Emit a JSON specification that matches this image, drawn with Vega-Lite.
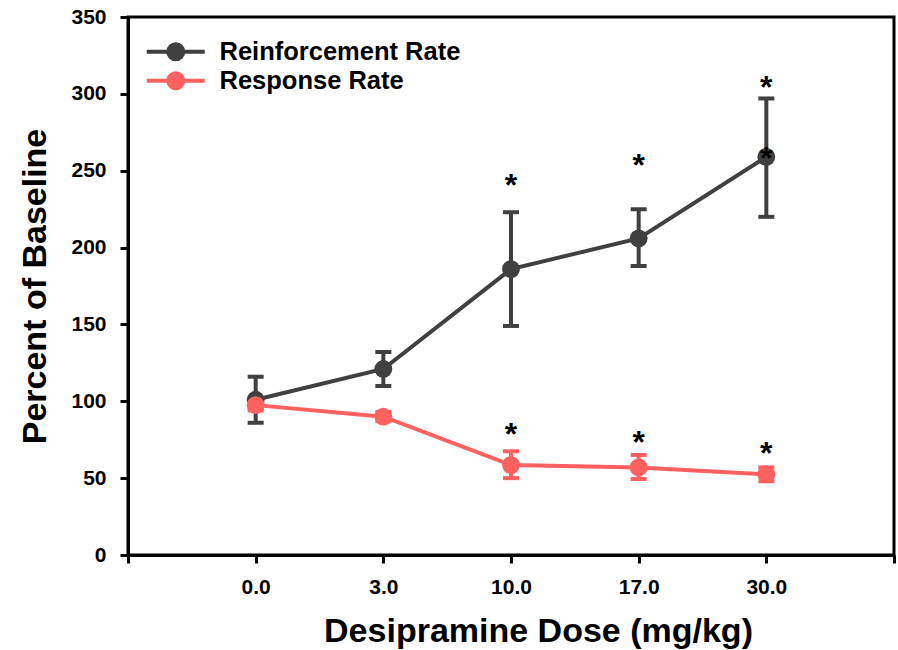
{
  "$schema": "https://vega.github.io/schema/vega-lite/v6.json",
  "width": 766,
  "height": 538,
  "autosize": "none",
  "padding": {"left": 128, "top": 17, "right": 4, "bottom": 95},
  "background": "white",
  "config": {
    "view": {"stroke": "black", "strokeWidth": 3},
    "font": "Liberation Sans",
    "axis": {
      "grid": false,
      "domainColor": "black",
      "domainWidth": 3,
      "tickColor": "black",
      "tickWidth": 3,
      "tickSize": 8,
      "labelFont": "Liberation Sans",
      "labelFontWeight": "bold",
      "labelFontSize": 21,
      "labelColor": "black",
      "titleFont": "Liberation Sans",
      "titleFontWeight": "bold",
      "titleFontSize": 34,
      "titleColor": "black"
    }
  },
  "datasets": {
    "series": [
      {"dose": "0.0", "series": "Reinforcement Rate", "mean": 101, "lo": 86, "hi": 116},
      {"dose": "3.0", "series": "Reinforcement Rate", "mean": 121, "lo": 110, "hi": 132},
      {"dose": "10.0", "series": "Reinforcement Rate", "mean": 186, "lo": 149, "hi": 223},
      {"dose": "17.0", "series": "Reinforcement Rate", "mean": 206, "lo": 188, "hi": 225},
      {"dose": "30.0", "series": "Reinforcement Rate", "mean": 259, "lo": 220, "hi": 297},
      {"dose": "0.0", "series": "Response Rate", "mean": 97.5, "lo": 94, "hi": 101},
      {"dose": "3.0", "series": "Response Rate", "mean": 90, "lo": 87, "hi": 93},
      {"dose": "10.0", "series": "Response Rate", "mean": 58.5, "lo": 50, "hi": 67.5},
      {"dose": "17.0", "series": "Response Rate", "mean": 57, "lo": 49.5, "hi": 65},
      {"dose": "30.0", "series": "Response Rate", "mean": 52.5, "lo": 48, "hi": 57}
    ],
    "stars": [
      {"dose": "10.0", "pos": 243},
      {"dose": "17.0", "pos": 256},
      {"dose": "30.0", "pos": 307},
      {"dose": "30.0", "pos": 261},
      {"dose": "10.0", "pos": 81},
      {"dose": "17.0", "pos": 76},
      {"dose": "30.0", "pos": 69}
    ]
  },
  "encoding": {
    "x": {
      "field": "dose",
      "type": "ordinal",
      "scale": {"type": "point", "domain": ["", "0.0", "3.0", "10.0", "17.0", "30.0", " "], "padding": 0},
      "axis": {"title": "Desipramine Dose (mg/kg)", "labelAngle": 0, "labelPadding": 13, "titlePadding": 17, "titleX": 410, "titleAnchor": "start", "titleAlign": "center"}
    },
    "color": {"field": "series", "type": "nominal",
      "scale": {"domain": ["Reinforcement Rate", "Response Rate"], "range": ["#404040", "#FF6060"]},
      "legend": {
        "title": null,
        "orient": "none",
        "legendX": 35,
        "legendY": 22,
        "padding": 0,
        "symbolType": "M-2.9,0H2.9M0.75,0A0.75,0.75,0,1,1,-0.75,0A0.75,0.75,0,1,1,0.75,0Z",
        "symbolSize": 400,
        "symbolStrokeWidth": 4,
        "labelFont": "Liberation Sans",
        "labelFontWeight": "bold",
        "labelFontSize": 25.5,
        "labelColor": "black",
        "labelOffset": 31,
        "labelLimit": 500,
        "rowPadding": -3,
        "encode": {"symbols": {"update": {"fill": {"scale": "color", "field": "value"}, "stroke": {"scale": "color", "field": "value"}, "opacity": {"value": 1}}}}
      }
    }
  },
  "layer": [
    {
      "data": {"name": "series"},
      "mark": {"type": "errorbar", "ticks": {"opacity": 1}, "size": 16, "thickness": 4},
      "encoding": {
        "y": {"field": "lo", "type": "quantitative", "scale": {"domain": [0, 350]},
              "axis": {"title": "Percent of Baseline", "values": [0, 50, 100, 150, 200, 250, 300, 350], "labelPadding": 14, "titlePadding": 18}},
        "y2": {"field": "hi"}
      }
    },
    {
      "data": {"name": "series"},
      "mark": {"type": "line", "strokeWidth": 4},
      "encoding": {
        "y": {"field": "mean", "type": "quantitative"}
      }
    },
    {
      "data": {"name": "series"},
      "mark": {"type": "point", "filled": true, "size": 320, "opacity": 1},
      "encoding": {
        "y": {"field": "mean", "type": "quantitative"}
      }
    },
    {
      "data": {"name": "stars"},
      "mark": {"type": "text", "text": "*", "fontSize": 32, "fontWeight": "bold", "font": "Liberation Sans", "baseline": "alphabetic", "dy": 15},
      "encoding": {
        "y": {"field": "pos", "type": "quantitative"},
        "color": {"value": "black"}
      }
    }
  ]
}
